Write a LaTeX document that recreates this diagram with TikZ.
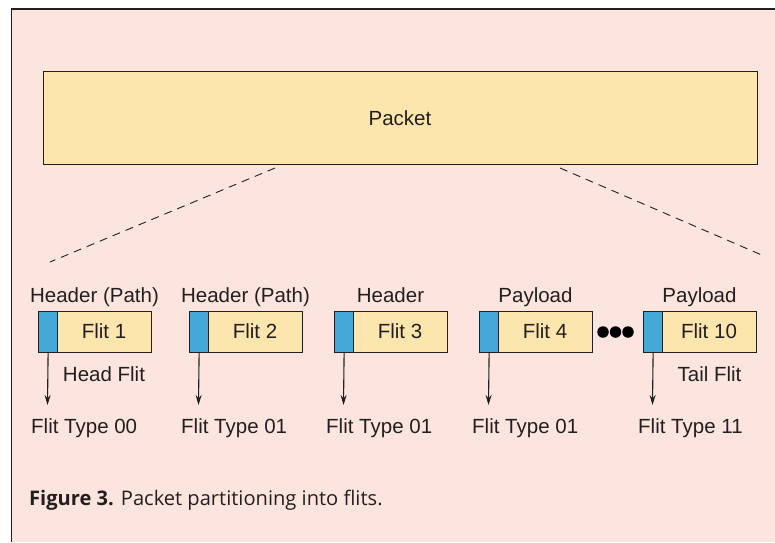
\documentclass[tikz,border=0pt]{standalone}
\usepackage{fontspec}
\setmainfont{Liberation Sans}
\newfontfamily\capfont{Open Sans}
\usetikzlibrary{arrows.meta}
\definecolor{panelpink}{HTML}{FCE5DE}
\definecolor{flityellow}{HTML}{FDE5AE}
\definecolor{flitblue}{HTML}{44A8D8}
\definecolor{inkgray}{HTML}{231F20}
\tikzset{
  lbl/.style={font=\fontsize{20.5}{23}\selectfont, text=inkgray, inner sep=0pt, anchor=base},
  flitbox/.style={draw=inkgray, line width=1.2pt, fill=flityellow, minimum width=113pt, minimum height=41pt, inner sep=0pt, anchor=north west},
  ctrlbox/.style={draw=inkgray, line width=1.2pt, fill=flitblue, minimum width=19pt, minimum height=41pt, inner sep=0pt, anchor=north west},
  typearrow/.style={draw=inkgray, line width=1.1pt, -{Stealth[length=10pt,width=6pt]}},
  splitline/.style={draw=inkgray, line width=0.9pt, dash pattern=on 8pt off 6pt},
  dot/.style={circle, fill=black, inner sep=0pt, minimum size=11.5pt}
}
\begin{document}
\begin{tikzpicture}[x=1pt,y=-1pt]
  \useasboundingbox (0,0) rectangle (775,542);
  % panel
  \fill[white] (0,0) rectangle (775,542);
  \fill[panelpink] (11.5,9) rectangle (775,542);
  \draw[inkgray, line width=1.3pt] (11.5,542) -- (11.5,9) -- (775,9);

  % packet
  \node[draw=inkgray, line width=1.3pt, fill=flityellow, minimum width=714pt, minimum height=93pt, inner sep=0pt, anchor=north west] (packet) at (43,71) {};
  \node[lbl] (packettxt) at (400,125) {Packet};

  % dashed expansion lines
  \coordinate (dl1) at (275,168);
  \coordinate (dl2) at (50,262);
  \coordinate (dr1) at (560,168);
  \coordinate (dr2) at (764,256);
  \draw[splitline] (dl1) -- (dl2);
  \draw[splitline] (dr1) -- (dr2);

  % flits: index / left x / header label / flit label
  \foreach \i/\x/\hd/\fl in {1/38/Header (Path)/Flit 1,
                             2/189/Header (Path)/Flit 2,
                             3/334/Header/Flit 3,
                             4/479/Payload/Flit 4,
                             10/643/Payload/Flit 10} {
    \node[flitbox] (f\i) at (\x,311) {};
    \node[ctrlbox] (c\i) at (\x,311) {};
    \node[lbl] (h\i) at ({\x+56.5},302) {\hd};
    \node[lbl] (t\i) at ({\x+19+47},338) {\fl};
    \coordinate (tip\i) at ({\x+9.5},405);
    \draw[typearrow] (c\i.south) -- (tip\i);
  }
  \node[lbl, anchor=base west] (ty1) at (31,433) {Flit Type 00};
  \node[lbl, anchor=base west] (ty2) at (181,433) {Flit Type 01};
  \node[lbl, anchor=base west] (ty3) at (326,433) {Flit Type 01};
  \node[lbl, anchor=base west] (ty4) at (472,433) {Flit Type 01};
  \node[lbl, anchor=base west] (ty10) at (638,433) {Flit Type 11};

  \node[lbl] (head) at (104,381) {Head Flit};
  \node[lbl] (tail) at (709.5,381) {Tail Flit};

  % ellipsis between flit 4 and flit 10
  \node[dot] (d1) at (603,332) {};
  \node[dot] (d2) at (615.5,332) {};
  \node[dot] (d3) at (628,332) {};

  % caption
  \node[anchor=base west, inner sep=0pt, text=inkgray, font=\capfont\fontsize{20.1}{23}\selectfont] (caption) at (29,505)
    {\textbf{Figure 3.} Packet partitioning into flits.};
\end{tikzpicture}
\end{document}
